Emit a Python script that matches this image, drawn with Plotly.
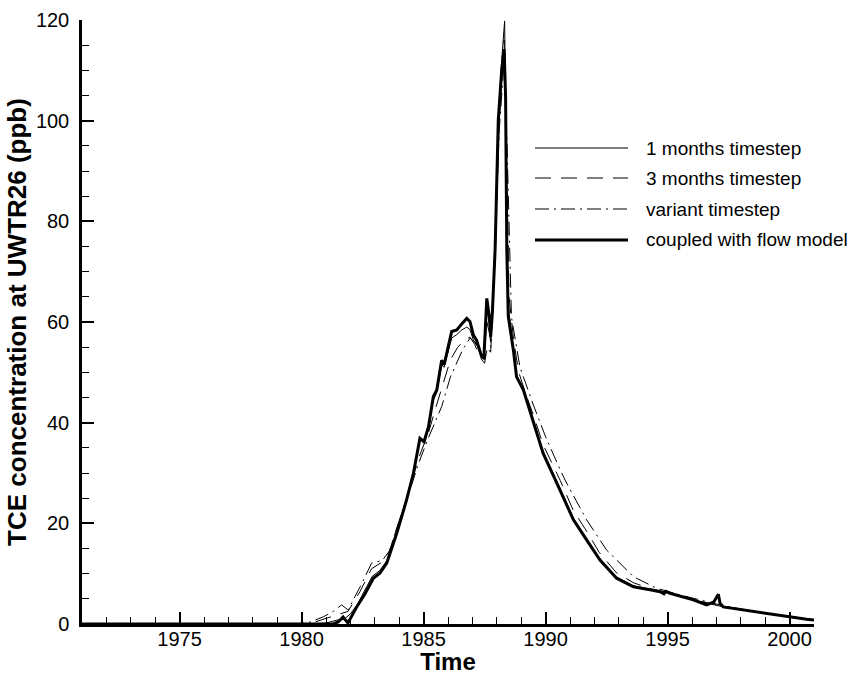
import plotly.graph_objects as go

# ---------------- data ----------------
t_coupled = [1971.0, 1981.3, 1981.5, 1981.7, 1981.9, 1982.26, 1982.6, 1982.94, 1983.21, 1983.49,
             1983.9, 1984.3, 1984.58, 1984.85, 1985.02, 1985.2, 1985.4, 1985.54, 1985.74, 1985.84,
             1986.15, 1986.36, 1986.56, 1986.77, 1986.9, 1987.04, 1987.17, 1987.38, 1987.47, 1987.59,
             1987.69, 1987.75, 1987.82, 1987.93, 1988.06, 1988.2, 1988.3, 1988.36, 1988.41, 1988.47,
             1988.68, 1988.81, 1989.09, 1989.5, 1989.9, 1990.59, 1991.14, 1991.68, 1992.23, 1992.91,
             1993.6, 1994.28, 1994.69, 1994.85, 1994.93, 1995.1, 1996.05, 1996.6, 1996.9, 1997.08,
             1997.15, 1997.28, 1997.69, 1998.79, 1999.74, 2000.7, 2001.0]
v_coupled = [0.0, 0.0, 0.4, 1.4, 0.2, 3.4, 6.0, 9.1, 10.1, 12.1,
             18.0, 24.6, 29.9, 36.9, 36.2, 39.2, 45.2, 46.5, 52.4, 51.5,
             58.1, 58.4, 59.6, 60.7, 60.1, 57.4, 56.4, 53.1, 52.8, 64.7,
             61.1, 57.1, 62.0, 74.3, 100.0, 110.0, 114.2, 105.0, 74.3, 61.1,
             54.4, 49.1, 46.5, 39.9, 33.9, 26.6, 20.7, 16.7, 12.7, 9.1,
             7.4, 6.8, 6.4, 6.0, 6.5, 6.1, 4.8, 3.8, 4.4, 5.9,
             4.1, 3.4, 3.1, 2.25, 1.6, 0.93, 0.8]

t_1month = [1971.0, 1980.6, 1981.0, 1981.5, 1981.8, 1982.0, 1982.3, 1982.6, 1982.9, 1983.2,
            1983.5, 1983.9, 1984.3, 1984.58, 1984.85, 1985.0, 1985.2, 1985.4, 1985.54, 1985.74,
            1985.84, 1986.15, 1986.36, 1986.56, 1986.77, 1986.9, 1987.04, 1987.17, 1987.38, 1987.47,
            1987.59, 1987.69, 1987.75, 1987.93, 1988.06, 1988.2, 1988.32, 1988.4, 1988.47, 1988.68,
            1988.81, 1989.09, 1989.5, 1989.9, 1990.59, 1991.14, 1991.68, 1992.23, 1992.91, 1993.6,
            1994.28, 1995.1, 1996.05, 1997.28, 1998.79, 2000.7, 2001.0]
v_1month = [0.0, 0.0, 0.2, 0.8, 1.2, 2.0, 4.0, 6.8, 9.5, 10.6,
            12.6, 18.5, 25.0, 30.2, 36.5, 36.5, 39.0, 44.5, 46.0, 51.5,
            51.0, 56.8, 57.5, 58.4, 59.0, 58.5, 56.4, 55.6, 53.0, 52.6,
            60.0, 58.0, 56.0, 75.0, 100.0, 112.0, 119.8, 90.0, 63.0, 55.0,
            49.5, 46.8, 40.2, 34.2, 27.0, 21.0, 17.0, 12.9, 9.3, 7.6,
            6.9, 6.1, 4.8, 3.4, 2.25, 0.93, 0.8]

t_3month = [1971.0, 1980.3, 1980.8, 1981.5, 1981.9, 1982.4, 1982.87, 1983.3, 1983.6, 1984.0,
            1984.4, 1984.8, 1985.2, 1985.5, 1985.8, 1986.1, 1986.4, 1986.7, 1986.9, 1987.1,
            1987.3, 1987.5, 1987.6, 1987.75, 1987.95, 1988.1, 1988.3, 1988.4, 1988.5, 1988.7,
            1988.9, 1989.2, 1989.5, 1989.9, 1990.6, 1991.14, 1991.7, 1992.2, 1992.9, 1993.6,
            1994.3, 1995.0, 1996.0, 1997.3, 1998.8, 2000.7, 2001.0]
v_3month = [0.0, 0.0, 0.8, 1.8, 2.5, 6.5, 11.0, 12.3, 14.5, 20.5,
            26.5, 33.0, 38.0, 43.0, 48.0, 52.5, 55.0, 56.5, 57.0, 55.5,
            53.0, 51.8, 55.0, 54.0, 75.0, 100.0, 116.0, 95.0, 65.0, 56.0,
            50.0, 45.5, 41.5, 35.6, 28.5, 22.5, 18.3, 14.2, 10.2, 8.2,
            7.0, 6.3, 4.9, 3.5, 2.3, 1.0, 0.85]

t_variant = [1971.0, 1979.8, 1980.3, 1980.9, 1981.3, 1981.64, 1981.9, 1982.4, 1982.87, 1983.3,
             1983.6, 1984.0, 1984.4, 1984.8, 1985.2, 1985.5, 1985.74, 1986.1, 1986.36, 1986.6,
             1986.9, 1987.1, 1987.3, 1987.5, 1987.6, 1987.75, 1987.95, 1988.1, 1988.3, 1988.42,
             1988.6, 1988.95, 1989.5, 1990.0, 1990.6, 1990.86, 1991.68, 1992.5, 1993.6, 1994.55,
             1995.5, 1996.5, 1997.3, 1998.8, 2000.7, 2001.0]
v_variant = [0.0, 0.0, 0.3, 1.45, 2.5, 3.8, 2.8, 7.4, 12.1, 12.6,
             14.5, 20.5, 26.0, 32.0, 37.0, 40.5, 43.2, 49.1, 51.8, 54.5,
             56.8, 56.0, 54.0, 52.5, 54.5, 55.0, 78.0, 98.0, 112.0, 95.0,
             61.0, 51.0, 43.5, 37.2, 30.6, 28.0, 20.7, 14.7, 9.4, 7.1,
             5.8, 4.6, 3.6, 2.3, 1.0, 0.85]

series_names = ["1 months timestep", "3 months timestep", "variant timestep", "coupled with flow model"]
x_ticks = [1975, 1980, 1985, 1990, 1995, 2000]
y_ticks = [0, 20, 40, 60, 80, 100, 120]

# ---------------- styles ----------------
styles = [
    dict(color="black", width=1, dash="solid"),
    dict(color="black", width=1, dash="16px,10px"),
    dict(color="black", width=1, dash="14px,5px,2px,5px"),
    dict(color="black", width=3, dash="solid"),
]
data = [(t_1month, v_1month), (t_3month, v_3month), (t_variant, v_variant), (t_coupled, v_coupled)]

FONT = "Liberation Sans, Arial, Helvetica, sans-serif"

fig = go.Figure()
for (tx, vy), name, st in zip(data, series_names, styles):
    fig.add_trace(go.Scatter(x=tx, y=vy, mode="lines", name=name, line=st, showlegend=False))

# manual legend (long line samples like the reference)
W, H = 865, 675
L, R, T, B = 82, 51, 20, 51
pw, ph = W - L - R, H - T - B
def px_x(p):
    return (p - L) / pw
def px_y(p):
    return (H - B - p) / ph

row_y = [148, 178, 209, 240]
for name, st, ry in zip(series_names, styles, row_y):
    fig.add_shape(type="line", xref="paper", yref="paper",
                  x0=px_x(535), x1=px_x(628), y0=px_y(ry), y1=px_y(ry),
                  line=dict(color=st["color"], width=st["width"] if st["width"] > 1 else 1.2, dash=st["dash"]))
    fig.add_annotation(xref="paper", yref="paper", x=px_x(644), y=px_y(ry), text=name,
                       showarrow=False, xanchor="left", yanchor="middle",
                       font=dict(family=FONT, size=19, color="black"))

fig.update_layout(
    width=W, height=H,
    margin=dict(l=L, r=R, t=T, b=B, autoexpand=False),
    paper_bgcolor="white", plot_bgcolor="white",
    font=dict(family=FONT, color="black"),
    showlegend=False,
)
fig.update_xaxes(
    range=[1971, 2001], tickvals=x_ticks, ticktext=[str(v) for v in x_ticks],
    ticks="inside", ticklen=12, tickwidth=2, tickcolor="black",
    minor=dict(dtick=1, tick0=1971, ticks="inside", ticklen=7, tickwidth=1, tickcolor="black"),
    showline=True, linewidth=2.5, linecolor="black", showgrid=False, zeroline=False,
    tickfont=dict(family=FONT, size=20), ticklabelstandoff=-5, automargin=False,
    title=dict(text="<b>Time</b>", font=dict(family=FONT, size=24), standoff=2),
)
fig.update_yaxes(
    range=[0, 120], tickvals=y_ticks, ticktext=[str(v) for v in y_ticks],
    ticks="inside", ticklen=12, tickwidth=2, tickcolor="black",
    minor=dict(dtick=5, tick0=0, ticks="inside", ticklen=7, tickwidth=1, tickcolor="black"),
    showline=True, linewidth=2.5, linecolor="black", showgrid=False, zeroline=False,
    tickfont=dict(family=FONT, size=20), ticklabelstandoff=6, automargin=False,
    title=dict(text="<b>TCE concentration at UWTR26 (ppb)</b>", font=dict(family=FONT, size=26), standoff=2),
)

fig.write_html("out.html")
